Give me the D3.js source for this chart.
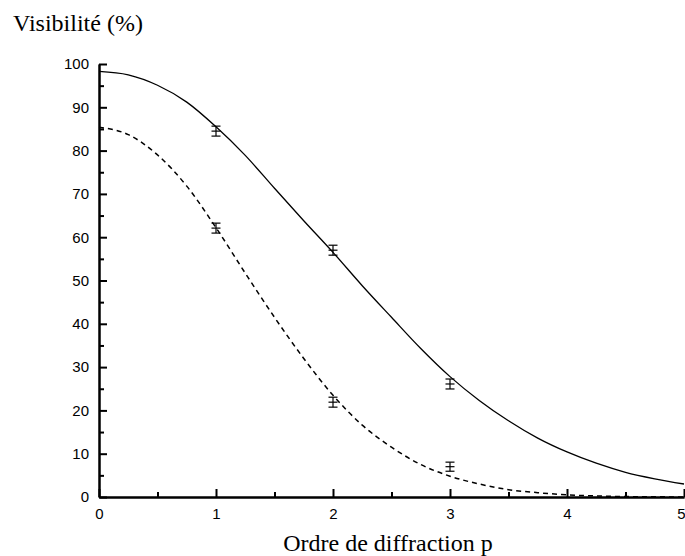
<!DOCTYPE html>
<html><head><meta charset="utf-8">
<script src="https://cdn.jsdelivr.net/npm/d3@7"></script>
<style>body{margin:0;background:#fff}svg{display:block}</style>
</head><body>
<svg id="c" width="685" height="556"></svg>
<script>
// Curve samples (p, visibility %)
const pSamples = [0,0.25,0.5,0.75,1,1.25,1.5,1.75,2,2.25,2.5,2.75,3,3.25,3.5,3.75,4,4.25,4.5,4.75,5];
const solidCurve = [98.3,97.5,95.1,91.2,85.5,78.9,71.3,63.8,56.5,48.8,41.5,34.3,27.8,22.3,17.6,13.6,10.4,7.8,5.7,4.2,3.0];
const dashedCurve = [85.4,83.7,79.0,71.8,62.2,51.7,41.5,32.0,23.5,16.6,11.5,7.5,4.8,3.0,1.7,1.0,0.5,0.25,0.1,0.05,0.0];
// Measured points with error bars
const orders = [1,2,3];
const solidPoints = [84.5,57.0,26.1];
const solidErr = [1.15,1.15,1.15];
const dashedPoints = [62.1,21.9,7.0];
const dashedErr = [1.15,1.15,1.05];
const xMajor = [0,1,2,3,4,5];
const xMinor = [0.5,1.5,2.5,3.5,4.5];
const yMajor = [0,10,20,30,40,50,60,70,80,90,100];
const yMinor = [5,15,25,35,45,55,65,75,85,95];

const svg = d3.select("#c");
const x = d3.scaleLinear().domain([0,5]).range([99,684]);
const y = d3.scaleLinear().domain([0,100]).range([497,64]);

const line = d3.line().x(d=>x(d[0])).y(d=>y(d[1])).curve(d3.curveMonotoneX);
svg.append("path").datum(pSamples.map((p,i)=>[p,solidCurve[i]]))
  .attr("d",line).attr("fill","none").attr("stroke","#000").attr("stroke-width",1.3);
svg.append("path").datum(pSamples.map((p,i)=>[p,dashedCurve[i]]))
  .attr("d",line).attr("fill","none").attr("stroke","#000").attr("stroke-width",1.5)
  .attr("stroke-dasharray","5,4");

function errBars(vals, errs){
  const g = svg.append("g");
  orders.forEach((p,i)=>{
    const cx = x(p), cap = 4.5;
    g.append("line").attr("x1",cx).attr("x2",cx).attr("y1",y(vals[i]-errs[i])).attr("y2",y(vals[i]+errs[i]));
    [vals[i]-errs[i], vals[i], vals[i]+errs[i]].forEach(v=>{
      g.append("line").attr("x1",cx-cap).attr("x2",cx+cap).attr("y1",y(v)).attr("y2",y(v));
    });
  });
  g.selectAll("line").attr("stroke","#000").attr("stroke-width",1.2);
}
errBars(solidPoints, solidErr);
errBars(dashedPoints, dashedErr);

// Axes
const fontT = "'Liberation Sans', Arial, sans-serif";
const gx = svg.append("g").attr("transform",`translate(0,${y(0)})`)
  .call(d3.axisBottom(x).tickValues(xMajor).tickFormat(d3.format("d")).tickSize(-8).tickSizeOuter(0).tickPadding(11));
const gxm = svg.append("g").attr("transform",`translate(0,${y(0)})`)
  .call(d3.axisBottom(x).tickValues(xMinor).tickFormat("").tickSize(-5).tickSizeOuter(0));
const gy = svg.append("g").attr("transform",`translate(${x(0)},0)`)
  .call(d3.axisLeft(y).tickValues(yMajor).tickFormat(d3.format("d")).tickSize(-8).tickSizeOuter(0).tickPadding(10));
const gym = svg.append("g").attr("transform",`translate(${x(0)},0)`)
  .call(d3.axisLeft(y).tickValues(yMinor).tickFormat("").tickSize(-5).tickSizeOuter(0));
[gx,gxm,gy,gym].forEach(g=>{
  g.selectAll("path.domain").attr("stroke","#000").attr("stroke-width",2);
  g.selectAll(".tick line").attr("stroke","#000").attr("stroke-width",2);
  g.selectAll("text").attr("font-family",fontT).attr("font-size",15).attr("fill","#000");
});
// keep the last x label inside the window
gx.selectAll(".tick text").filter(d=>d===5).attr("text-anchor","end").attr("dx",1);

svg.append("text").attr("x",13).attr("y",31)
  .attr("font-family","'Liberation Serif', 'Times New Roman', serif").attr("font-size",24)
  .text("Visibilité (%)");
svg.append("text").attr("x",388).attr("y",551).attr("text-anchor","middle")
  .attr("font-family","'Liberation Serif', 'Times New Roman', serif").attr("font-size",24)
  .text("Ordre de diffraction p");
</script>
</body></html>
